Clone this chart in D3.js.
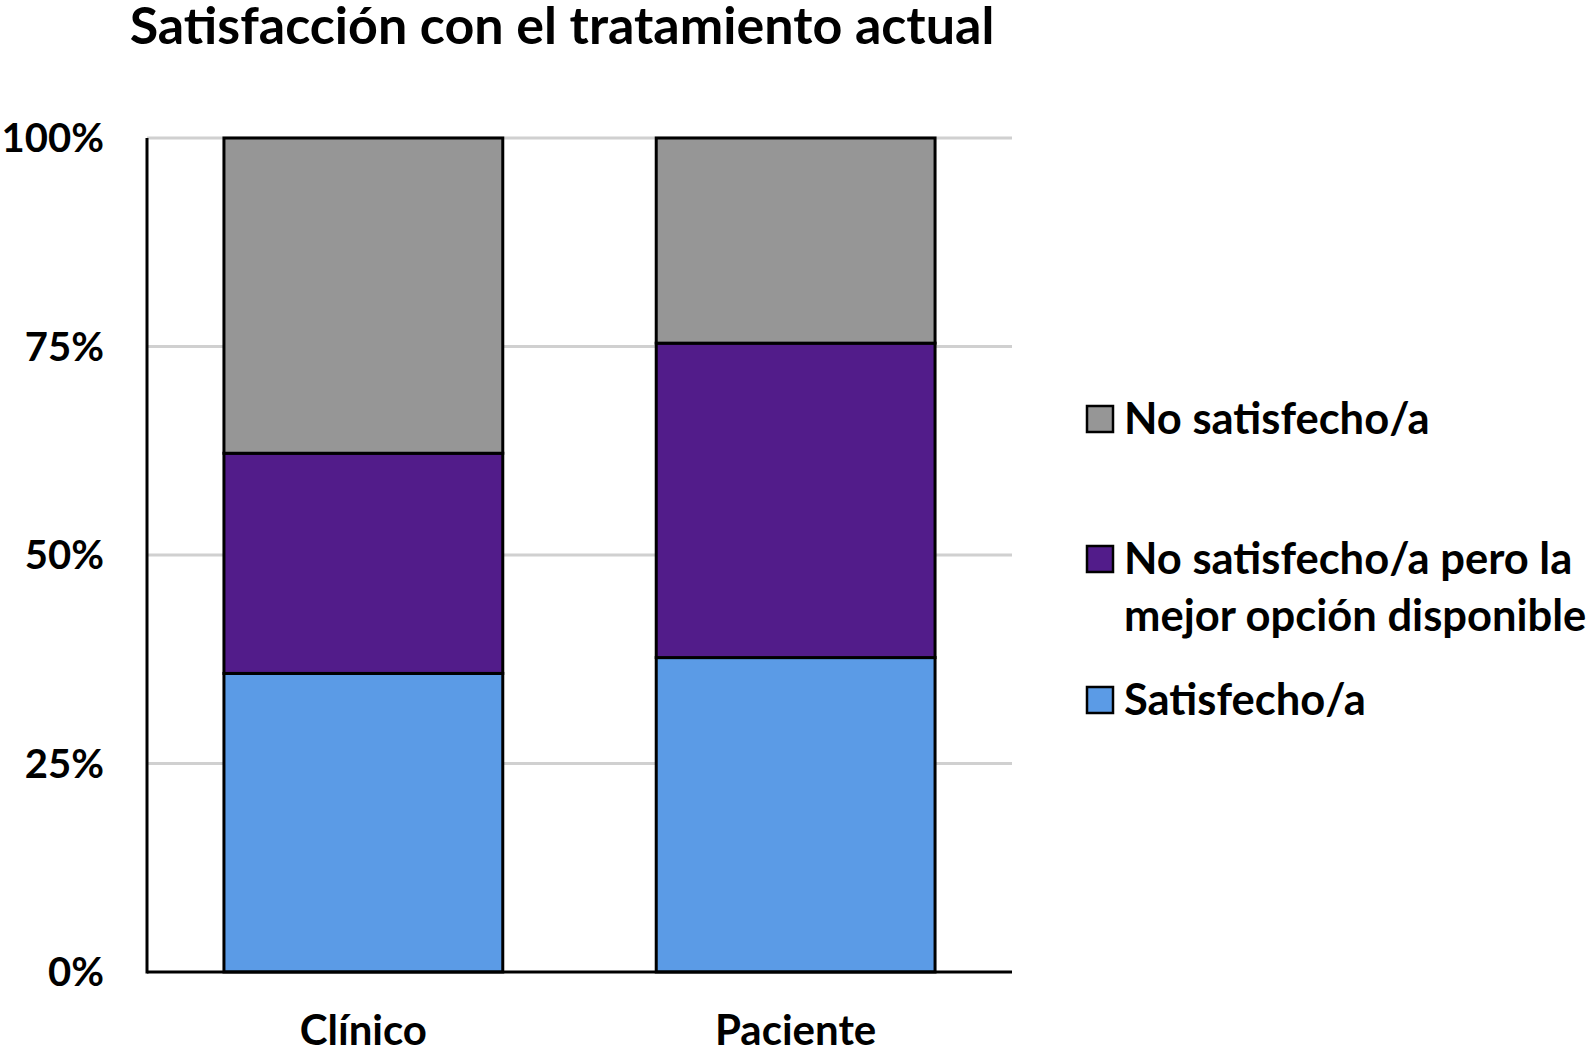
<!DOCTYPE html>
<html><head><meta charset="utf-8">
<script src="https://cdn.jsdelivr.net/npm/d3@7"></script>
<style>body{margin:0;background:#fff}svg{display:block}text{font-family:Lato,"Open Sans",sans-serif;font-weight:bold;fill:#000}</style>
</head><body>
<script>
const categories = ["Clínico", "Paciente"];
const seriesNames = ["Satisfecho/a", "No satisfecho/a pero la mejor opción disponible", "No satisfecho/a"];
const satisfecho = [35.8, 37.7];
const noSatPeroMejor = [26.4, 37.7];
const noSatisfecho = [37.8, 24.6];
const yTicks = [0, 25, 50, 75, 100];
const colors = ["#5B9BE6", "#521C8A", "#969696"];

(function () {
const W = 1591, H = 1051;
const svg = d3.select("body").append("svg").attr("width", W).attr("height", H);
const mLeft = 147, mRight = 1012, mTop = 138, mBottom = 972;

const x = d3.scaleBand().domain(categories).range([mLeft, mRight]).paddingInner(0.355).paddingOuter(0.178);
const y = d3.scaleLinear().domain([0, 100]).range([mBottom, mTop]);

const rows = categories.map((c, i) => ({cat: c, s0: satisfecho[i], s1: noSatPeroMejor[i], s2: noSatisfecho[i]}));
const stack = d3.stack().keys(["s0", "s1", "s2"])(rows);

svg.append("g").selectAll("line").data(yTicks.filter(t => t > 0)).join("line")
  .attr("x1", mLeft).attr("x2", mRight).attr("y1", d => y(d)).attr("y2", d => y(d))
  .attr("stroke", "#d0d0d0").attr("stroke-width", 3);

stack.forEach((layer, li) => {
  svg.append("g").selectAll("rect").data(layer).join("rect")
    .attr("x", d => x(d.data.cat)).attr("width", x.bandwidth())
    .attr("y", d => y(d[1])).attr("height", d => y(d[0]) - y(d[1]))
    .attr("fill", colors[li]).attr("stroke", "#000").attr("stroke-width", 3);
});

svg.append("line").attr("x1", mLeft).attr("x2", mLeft).attr("y1", mTop).attr("y2", mBottom + 1.5).attr("stroke", "#000").attr("stroke-width", 3);
svg.append("line").attr("x1", mLeft).attr("x2", mRight).attr("y1", mBottom).attr("y2", mBottom).attr("stroke", "#000").attr("stroke-width", 3);

svg.append("g").selectAll("text").data(yTicks).join("text")
  .attr("x", 104).attr("y", d => y(d)).attr("dy", "0.35em").attr("text-anchor", "end")
  .style("font-size", "40px").text(d => d + "%");

svg.append("g").selectAll("text").data(categories).join("text")
  .attr("x", d => x(d) + x.bandwidth() / 2).attr("y", 1045).attr("text-anchor", "middle")
  .style("font-size", "42px").text(d => d);

svg.append("text").attr("x", 562).attr("y", 44).attr("text-anchor", "middle")
  .style("font-size", "52px").text("Satisfacción con el tratamiento actual");

const legend = [
  {color: colors[2], lines: ["No satisfecho/a"], cy: 419},
  {color: colors[1], lines: ["No satisfecho/a pero la", "mejor opción disponible"], cy: 559},
  {color: colors[0], lines: ["Satisfecho/a"], cy: 700}
];
const lg = svg.append("g").selectAll("g").data(legend).join("g");
lg.append("rect").attr("x", 1087).attr("y", d => d.cy - 13).attr("width", 26).attr("height", 26)
  .attr("fill", d => d.color).attr("stroke", "#000").attr("stroke-width", 2.5);
lg.each(function(d) {
  d3.select(this).selectAll("text.l").data(d.lines).join("text").attr("class", "l")
    .attr("x", 1124).attr("y", (t, i) => d.cy + i * 57).attr("dy", "0.35em")
    .style("font-size", "43.5px").text(t => t);
});
})();
</script>
</body></html>
